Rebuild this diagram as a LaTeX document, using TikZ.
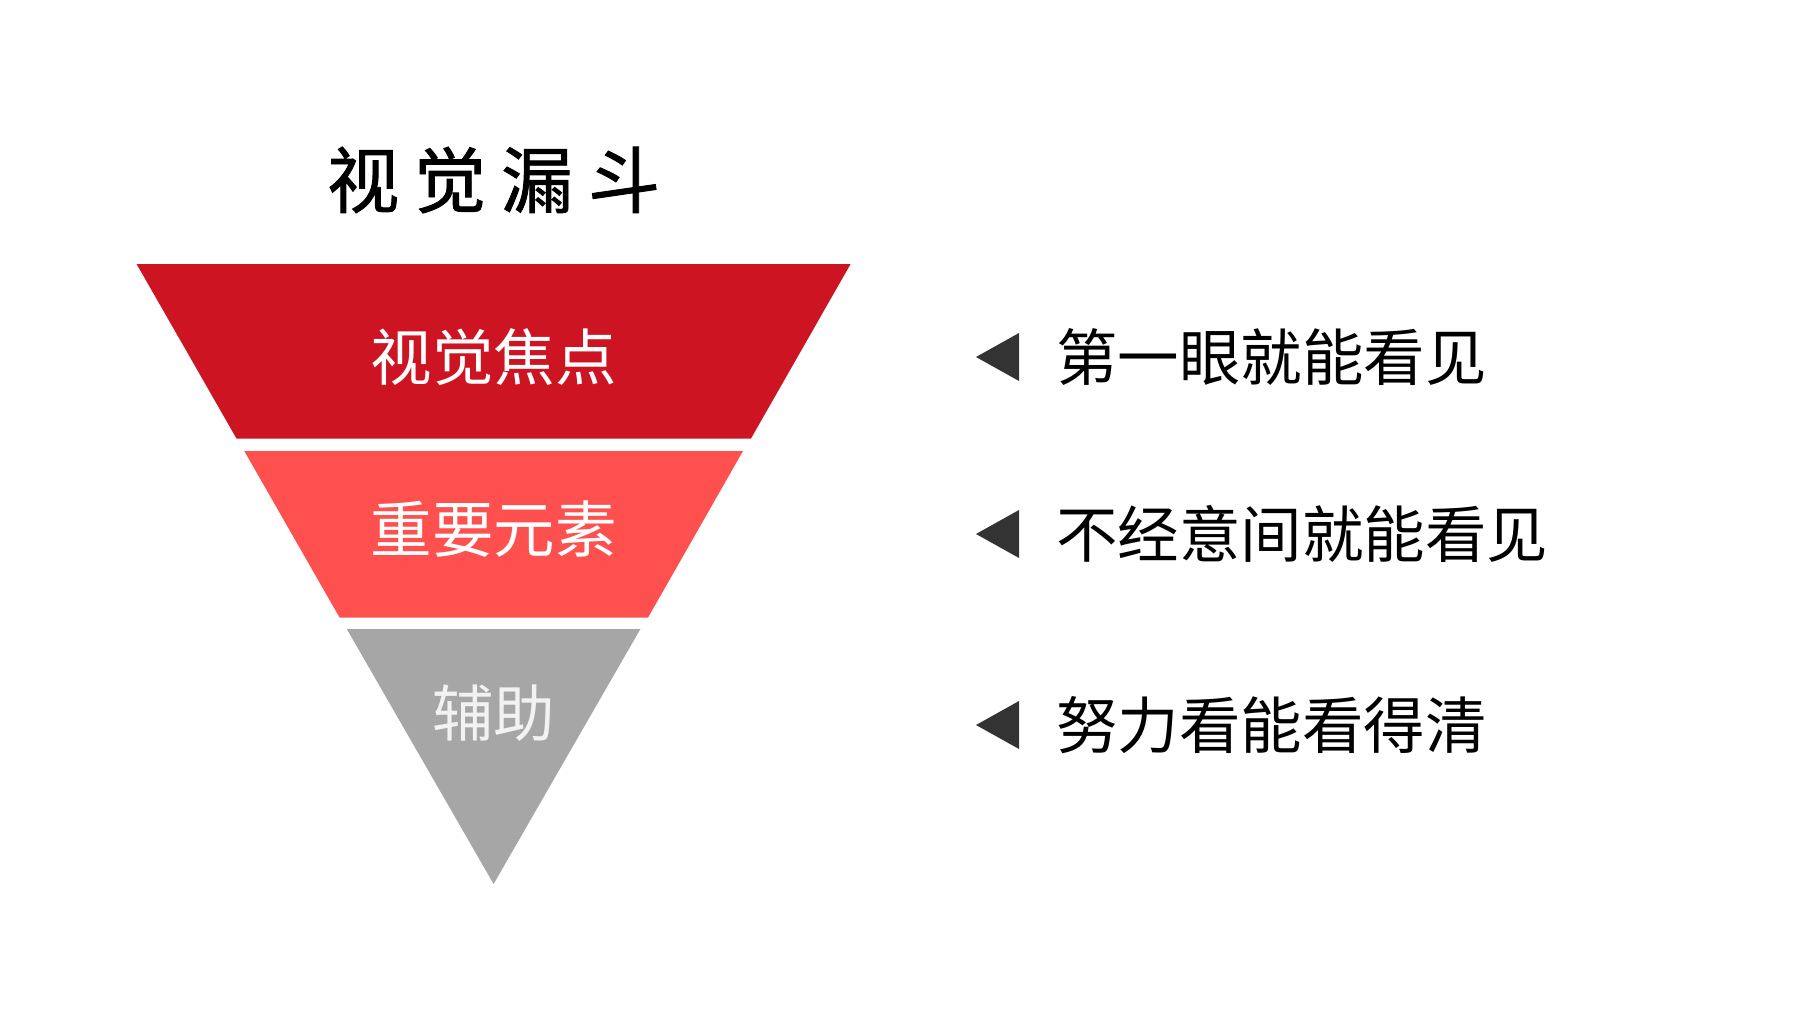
\documentclass[tikz,border=0pt]{standalone}
\usepackage{fontspec}
\newfontfamily\cjk{Noto Sans CJK SC}
\newfontfamily\cjktitle[FakeBold=1.2]{Noto Sans CJK SC}
\definecolor{fred}{RGB}{204,20,35}
\definecolor{fpink}{RGB}{255,80,80}
\definecolor{fgray}{RGB}{166,166,166}
\definecolor{tipgray}{RGB}{51,51,51}
\definecolor{lbl}{RGB}{242,242,242}
\tikzset{
  inlabel/.style={inner sep=0pt, font=\cjk\fontsize{61.5}{61.5}\selectfont, text=white},
  sidelabel/.style={inner sep=0pt, anchor=west, font=\cjk\fontsize{61.5}{61.5}\selectfont, text=black},
  tip/.style={fill=tipgray, draw=none}
}
\begin{document}
\begin{tikzpicture}[x=1pt,y=-1pt]
\useasboundingbox[fill=white] (0,0) rectangle (1800,1036);
% title
\node[inner sep=0pt, font=\cjktitle\fontsize{72}{72}\selectfont] (title) at (493.6,180)
  {视\hspace{15pt}觉\hspace{15pt}漏\hspace{15pt}斗};
% funnel segments
\fill[fred]  (136.6,264) -- (850.6,264) -- (751,438.5) -- (236.5,438.5) -- cycle;
\fill[fpink] (244.3,451) -- (743,451) -- (648,617.6) -- (339.6,617.6) -- cycle;
\fill[fgray] (346.8,629) -- (640.4,629) -- (493.6,884) -- cycle;
% funnel labels
\node[inlabel] (l1) at (493.6,357) {视觉焦点};
\node[inlabel] (l2) at (493.6,529) {重要元素};
\node[inlabel, text=lbl] (l3) at (493.6,713) {辅助};
% side tips
\fill[tip] (976,357) -- (1019,333) -- (1019,381) -- cycle;
\fill[tip] (976,534) -- (1019,510) -- (1019,558) -- cycle;
\fill[tip] (976,725) -- (1019,701) -- (1019,749) -- cycle;
% side labels
\node[sidelabel] (r1) at (1056,357) {第一眼就能看见};
\node[sidelabel] (r2) at (1056,534) {不经意间就能看见};
\node[sidelabel] (r3) at (1056,725) {努力看能看得清};
\end{tikzpicture}
\end{document}
